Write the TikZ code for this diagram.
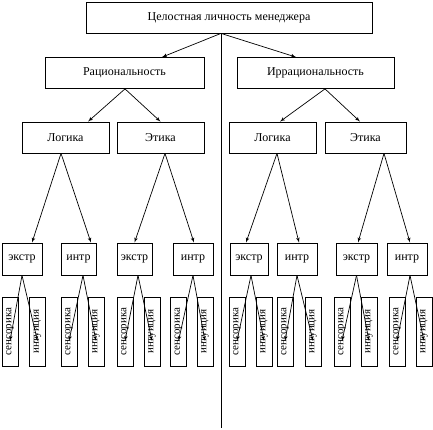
\documentclass[tikz,border=0pt]{standalone}
\usepackage{fontspec}
\setmainfont{Liberation Serif}
\usetikzlibrary{arrows,positioning,calc}

\begin{document}
\begin{tikzpicture}[x=1pt,y=-1pt]
\tikzset{
    %grot strzalki
    >=latex',
    %styl blokow
    blok/.style={
           rectangle,
           inner sep=1pt,
           line width=0.8pt,draw=black,
           minimum height=31pt,
           text centered,
           font=\fontsize{12}{14}\selectfont},
    malyblok/.style={
           rectangle,
           inner sep=1pt,
           line width=0.8pt,draw=black,
           minimum height=32pt,
           text centered,
           font=\fontsize{12}{14}\selectfont},
    pasek/.style={
           rectangle, rotate=90,
           inner sep=0pt,
           line width=0.8pt,draw=black,
           minimum width=69pt,
           minimum height=16pt,
           font=\fontsize{11}{12}\selectfont},
    strz/.style={->,line width=0.7pt}
}
\useasboundingbox (0,0) rectangle (433,430);

%BLOKI
\node(top)   [blok,minimum width=286pt] at (229,17.5)  {Целостная личность менеджера};
\node(rac)   [blok,minimum width=159pt] at (124.5,73)  {Рациональность};
\node(irr)   [blok,minimum width=157pt] at (315.5,73)  {Иррациональность};
\node(logl)  [blok,minimum width=87pt]  at (65.5,137.5) {Логика};
\node(etl)   [blok,minimum width=87pt]  at (160.5,137.5) {Этика};
\node(logr)  [blok,minimum width=87pt]  at (272.5,137.5) {Логика};
\node(etr)   [blok,minimum width=81pt]  at (365.5,137.5) {Этика};

%Poziom ekstr/intr
\node(ek1)   [malyblok,minimum width=40pt] at (22,259)    {экстр};
\node(in1)   [malyblok,minimum width=35pt] at (78.5,259)  {интр};
\node(ek2)   [malyblok,minimum width=35pt] at (134.5,259) {экстр};
\node(in2)   [malyblok,minimum width=40pt] at (193,259)   {интр};
\node(ek3)   [malyblok,minimum width=38pt] at (249,259)   {экстр};
\node(in3)   [malyblok,minimum width=40pt] at (297,259)   {интр};
\node(ek4)   [malyblok,minimum width=41pt] at (356.5,259) {экстр};
\node(in4)   [malyblok,minimum width=40pt] at (407,259)   {интр};

%Paski
\node(sen1)  [pasek] at (10,331.5)   {сенсорика};
\node(int1)  [pasek] at (37.5,331.5) {интуиция};
\node(sen2)  [pasek] at (69,331.5)   {сенсорика};
\node(int2)  [pasek] at (96,331.5)   {интуиция};
\node(sen3)  [pasek] at (125,331.5)  {сенсорика};
\node(int3)  [pasek] at (152,331.5)  {интуиция};
\node(sen4)  [pasek] at (178.5,331.5) {сенсорика};
\node(int4)  [pasek] at (205,331.5)  {интуиция};
\node(sen5)  [pasek] at (237,331.5)  {сенсорика};
\node(int5)  [pasek] at (264,331.5)  {интуиция};
\node(sen6)  [pasek] at (285,331.5)  {сенсорика};
\node(int6)  [pasek] at (313,331.5)  {интуиция};
\node(sen7)  [pasek] at (342,331.5)  {сенсорика};
\node(int7)  [pasek] at (369,331.5)  {интуиция};
\node(sen8)  [pasek] at (397,331.5)  {сенсорика};
\node(int8)  [pasek] at (424,331.5)  {интуиция};

\coordinate(dol) at (221,428);

%Strzalki
\draw[line width=0.8pt] ([xshift=-8pt]top.south) -- (dol);
\draw[strz] ([xshift=-8pt]top.south) -- ([xshift=37.5pt]rac.north);
\draw[strz] ([xshift=-8pt]top.south) -- ([xshift=-19.5pt]irr.north);

\draw[strz] ([xshift=0.5pt]rac.south) -- ([xshift=22.5pt]logl.north);
\draw[strz] ([xshift=0.5pt]rac.south) -- (etl.north);
\draw[strz] ([xshift=9.5pt]irr.south) -- ([xshift=7.5pt]logr.north);
\draw[strz] ([xshift=9.5pt]irr.south) -- ([xshift=-5.5pt]etr.north);

\draw[strz] ([xshift=-4.5pt]logl.south) -- ([xshift=10pt]ek1.north);
\draw[strz] ([xshift=-4.5pt]logl.south) -- ([xshift=12.5pt]in1.north);
\draw[strz] ([xshift=4.5pt]etl.south) -- (ek2.north);
\draw[strz] ([xshift=4.5pt]etl.south) -- ([xshift=1pt]in2.north);
\draw[strz] ([xshift=4.5pt]logr.south) -- ([xshift=-3pt]ek3.north);
\draw[strz] ([xshift=4.5pt]logr.south) -- ([xshift=2pt]in3.north);
\draw[strz] ([xshift=18.5pt]etr.south) -- ([xshift=1.5pt]ek4.north);
\draw[strz] ([xshift=18.5pt]etr.south) -- ([xshift=3pt]in4.north);

\draw[strz] (ek1.south) -- ([yshift=-9.5pt]sen1.center);
\draw[strz] (ek1.south) -- ([yshift=-9.5pt]int1.center);
\draw[strz] ([xshift=4.5pt]in1.south) -- ([yshift=-9.5pt]sen2.center);
\draw[strz] ([xshift=4.5pt]in1.south) -- ([yshift=-9.5pt]int2.center);
\draw[strz] ([xshift=3.5pt]ek2.south) -- ([yshift=-9.5pt]sen3.center);
\draw[strz] ([xshift=3.5pt]ek2.south) -- ([yshift=-9.5pt]int3.center);
\draw[strz] (in2.south) -- ([yshift=-9.5pt]sen4.center);
\draw[strz] (in2.south) -- ([yshift=-9.5pt]int4.center);
\draw[strz] ([xshift=2pt]ek3.south) -- ([yshift=-9.5pt]sen5.center);
\draw[strz] ([xshift=2pt]ek3.south) -- ([yshift=-9.5pt]int5.center);
\draw[strz] (in3.south) -- ([yshift=-9.5pt]sen6.center);
\draw[strz] (in3.south) -- ([yshift=-9.5pt]int6.center);
\draw[strz] (ek4.south) -- ([yshift=-9.5pt]sen7.center);
\draw[strz] (ek4.south) -- ([yshift=-9.5pt]int7.center);
\draw[strz] ([xshift=3pt]in4.south) -- ([yshift=-9.5pt]sen8.center);
\draw[strz] ([xshift=3pt]in4.south) -- ([yshift=-9.5pt]int8.center);
\end{tikzpicture}
\end{document}
